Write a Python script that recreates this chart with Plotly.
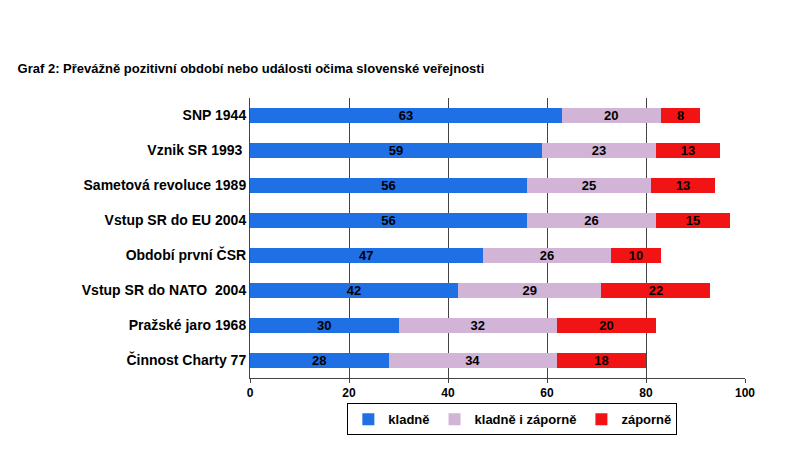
import plotly.graph_objects as go

kategorie = ["SNP 1944", "Vznik SR 1993 ", "Sametová revoluce 1989", "Vstup SR do EU 2004",
             "Období první ČSR", "Vstup SR do NATO  2004", "Pražské jaro 1968", "Činnost Charty 77"]
kladne = [63, 59, 56, 56, 47, 42, 30, 28]
oboje = [20, 23, 25, 26, 26, 29, 32, 34]
zaporne = [8, 13, 13, 15, 10, 22, 20, 18]

serie = [("kladně", kladne, "#1f6fe5"),
         ("kladně i záporně", oboje, "#d2b4d6"),
         ("záporně", zaporne, "#f21414")]

fig = go.Figure()
for nazev, hodnoty, barva in serie:
    fig.add_trace(go.Bar(y=kategorie, x=hodnoty, name="<b>" + nazev + "</b>", orientation="h",
                         marker=dict(color=barva, line=dict(width=0)), width=0.45,
                         text=["<b>%d</b>" % v for v in hodnoty], textposition="inside",
                         insidetextanchor="middle", textangle=0,
                         textfont=dict(color="black", size=13, family="Liberation Sans, Arial"),
                         constraintext="none"))

fig.update_layout(
    barmode="stack", width=800, height=450, paper_bgcolor="white", plot_bgcolor="white",
    font=dict(family="Liberation Sans, Arial", color="black"),
    margin=dict(l=242, r=63, t=90, b=80),
    title=dict(text="<b>Graf 2: Převážně pozitivní období nebo události očima slovenské veřejnosti</b>",
               x=0.012, xanchor="left", y=0.865, yanchor="middle", font=dict(size=13)),
    xaxis=dict(range=[0, 100], dtick=20, showgrid=True, gridcolor="#444", gridwidth=1,
               showline=True, linecolor="#444", ticks="outside", ticklen=4,
               tickfont=dict(size=12), tickprefix="<b>", ticksuffix="</b>",
               zeroline=False),
    yaxis=dict(autorange="reversed", tickfont=dict(size=14), tickprefix="<b>", ticksuffix="</b>",
               showline=True, linecolor="#444", ticks="", automargin=False),
    legend=dict(orientation="h", x=0.53, xanchor="center", y=-0.09, yanchor="top",
                bordercolor="black", borderwidth=1, font=dict(size=13), traceorder="normal",
                itemwidth=30, tracegroupgap=0),
    uniformtext=dict(minsize=8, mode="show"),
)

fig.write_html("out.html")
